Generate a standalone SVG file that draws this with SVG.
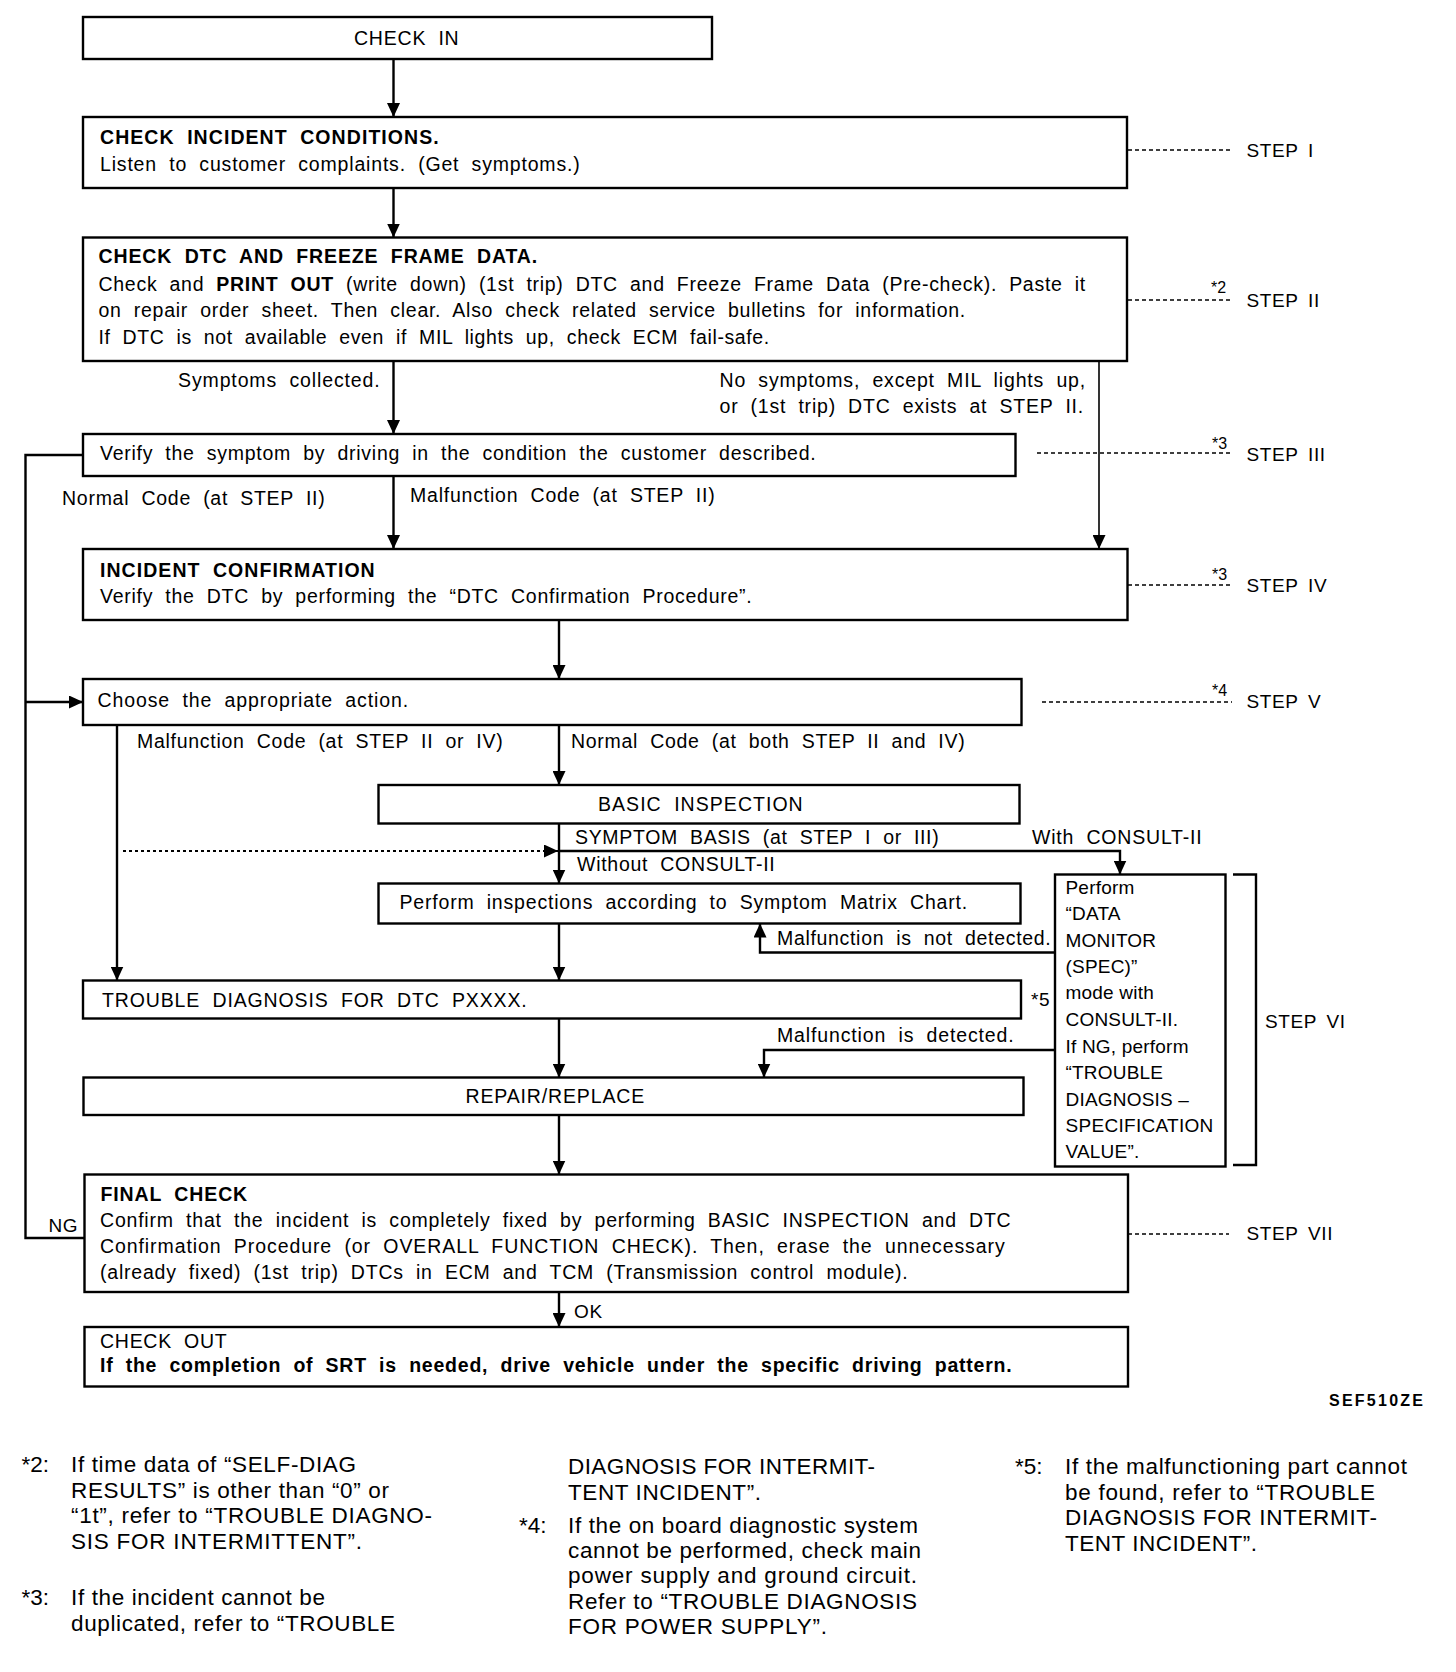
<svg xmlns="http://www.w3.org/2000/svg" width="1456" height="1672" viewBox="0 0 1456 1672">
<style>
.bx{fill:#fff;stroke:#000;stroke-width:2.4}
.ln{fill:none;stroke:#000;stroke-width:2.4}
.thin{fill:none;stroke:#000;stroke-width:1.6}
.dash{fill:none;stroke:#000;stroke-width:1.5;stroke-dasharray:4 3}
.dot{fill:none;stroke:#000;stroke-width:2;stroke-dasharray:3 3}
text{font-family:"Liberation Sans",Arial,Helvetica,sans-serif;fill:#000}
.t{font-size:19.5px;letter-spacing:0.3px;word-spacing:6px}
.tb{font-size:19.5px;font-weight:bold;letter-spacing:0.3px;word-spacing:6px}
.c{font-size:19px;letter-spacing:0.2px}
.st{font-size:19px;letter-spacing:0.6px;word-spacing:4px}
.sup{font-size:16px}
.fn{font-size:22.5px}
.code{font-size:16px;font-weight:bold}
</style>
<defs>
<marker id="ah" markerUnits="userSpaceOnUse" markerWidth="13" markerHeight="13" refX="14" refY="6.5" orient="auto">
<path d="M0,0 L14,6.5 L0,13 z" fill="#000"/>
</marker>
</defs>
<rect width="1456" height="1672" fill="#fff"/>

<g id="connectors">
<line class="ln" x1="393.5" y1="59" x2="393.5" y2="117" marker-end="url(#ah)"/>
<line class="ln" x1="393.5" y1="188" x2="393.5" y2="237.5" marker-end="url(#ah)"/>
<line class="ln" x1="393.5" y1="361" x2="393.5" y2="434" marker-end="url(#ah)"/>
<line class="thin" x1="1099" y1="361" x2="1099" y2="549" marker-end="url(#ah)"/>
<line class="ln" x1="393.5" y1="476" x2="393.5" y2="549" marker-end="url(#ah)"/>
<line class="ln" x1="559" y1="620" x2="559" y2="679" marker-end="url(#ah)"/>
<line class="ln" x1="559" y1="725" x2="559" y2="785" marker-end="url(#ah)"/>
<line class="ln" x1="559" y1="823.5" x2="559" y2="883.5" marker-end="url(#ah)"/>
<polyline class="ln" points="559,851 1120,851 1120,874.5" marker-end="url(#ah)"/>
<line class="dot" x1="123" y1="851" x2="558" y2="851" marker-end="url(#ah)"/>
<line class="ln" x1="117" y1="725" x2="117" y2="980.5" marker-end="url(#ah)"/>
<line class="ln" x1="559" y1="923.5" x2="559" y2="980.5" marker-end="url(#ah)"/>
<polyline class="ln" points="1055,952.5 760,952.5 760,923.5" marker-end="url(#ah)"/>
<line class="ln" x1="559" y1="1018.5" x2="559" y2="1077.5" marker-end="url(#ah)"/>
<polyline class="ln" points="1055,1050 764,1050 764,1077.5" marker-end="url(#ah)"/>
<line class="ln" x1="559" y1="1115" x2="559" y2="1174.5" marker-end="url(#ah)"/>
<line class="ln" x1="559" y1="1292" x2="559" y2="1327" marker-end="url(#ah)"/>
<polyline class="ln" points="83,455 25.5,455 25.5,1238 84.5,1238"/>
<line class="ln" x1="25.5" y1="702" x2="83" y2="702" marker-end="url(#ah)"/>
<line class="dash" x1="1128" y1="150" x2="1232" y2="150"/>
<line class="dash" x1="1128" y1="300" x2="1232" y2="300"/>
<line class="dash" x1="1037" y1="453" x2="1232" y2="453"/>
<line class="dash" x1="1128" y1="585" x2="1232" y2="585"/>
<line class="dash" x1="1042" y1="702" x2="1232" y2="702"/>
<line class="dash" x1="1128" y1="1234" x2="1229" y2="1234"/>
<polyline class="ln" points="1233,874.5 1256,874.5 1256,1165 1233,1165"/>
</g>

<g id="n1">
<rect class="bx" x="83" y="17" width="629" height="42"/>
<text class="t" x="354" y="44.5" textLength="105">CHECK IN</text>
</g>
<g id="n2">
<rect class="bx" x="83" y="117" width="1044" height="71"/>
<text class="tb" x="100" y="144" textLength="339">CHECK INCIDENT CONDITIONS.</text>
<text class="t" x="100" y="171" textLength="480">Listen to customer complaints. (Get symptoms.)</text>
</g>
<g id="n3">
<rect class="bx" x="83" y="237.5" width="1044" height="123.5"/>
<text class="tb" x="98.5" y="263" textLength="439">CHECK DTC AND FREEZE FRAME DATA.</text>
<text class="t" x="98.5" y="291" textLength="987">Check and <tspan font-weight="bold">PRINT OUT</tspan> (write down) (1st trip) DTC and Freeze Frame Data (Pre-check). Paste it</text>
<text class="t" x="98.5" y="317" textLength="867">on repair order sheet. Then clear. Also check related service bulletins for information.</text>
<text class="t" x="98.5" y="344" textLength="671">If DTC is not available even if MIL lights up, check ECM fail-safe.</text>
</g>
<g id="labels-a">
<text class="t" x="178" y="387" textLength="202">Symptoms collected.</text>
<text class="t" x="719.5" y="387" textLength="366">No symptoms, except MIL lights up,</text>
<text class="t" x="719.5" y="413" textLength="364">or (1st trip) DTC exists at STEP II.</text>
</g>
<g id="n4">
<rect class="bx" x="83" y="434" width="932.5" height="42"/>
<text class="t" x="100" y="460" textLength="716">Verify the symptom by driving in the condition the customer described.</text>
</g>
<g id="labels-b">
<text class="t" x="62" y="505" textLength="263">Normal Code (at STEP II)</text>
<text class="t" x="410" y="502" textLength="305">Malfunction Code (at STEP II)</text>
</g>
<g id="n5">
<rect class="bx" x="83" y="549" width="1044.5" height="71"/>
<text class="tb" x="100" y="577" textLength="275">INCIDENT CONFIRMATION</text>
<text class="t" x="100" y="603" textLength="652">Verify the DTC by performing the “DTC Confirmation Procedure”.</text>
</g>
<g id="n6">
<rect class="bx" x="83" y="679" width="938.5" height="46"/>
<text class="t" x="97.5" y="707" textLength="311">Choose the appropriate action.</text>
</g>
<g id="labels-c">
<text class="t" x="137" y="748" textLength="366">Malfunction Code (at STEP II or IV)</text>
<text class="t" x="571" y="748" textLength="394">Normal Code (at both STEP II and IV)</text>
</g>
<g id="n7">
<rect class="bx" x="378.5" y="785" width="641" height="38.5"/>
<text class="t" x="598" y="811" textLength="205">BASIC INSPECTION</text>
</g>
<g id="labels-d">
<text class="t" x="575" y="844" textLength="364">SYMPTOM BASIS (at STEP I or III)</text>
<text class="t" x="1032" y="844" textLength="170">With CONSULT-II</text>
<text class="t" x="577" y="871" textLength="198">Without CONSULT-II</text>
</g>
<g id="n8">
<rect class="bx" x="378.5" y="883.5" width="642" height="40"/>
<text class="t" x="399.5" y="909" textLength="568">Perform inspections according to Symptom Matrix Chart.</text>
</g>
<g id="labels-e">
<text class="t" x="777" y="945" textLength="274">Malfunction is not detected.</text>
<text class="t" x="777" y="1042" textLength="237">Malfunction is detected.</text>
<text class="st" x="1031" y="1006">*5</text>
</g>
<g id="n9">
<rect class="bx" x="83" y="980.5" width="938" height="38"/>
<text class="t" x="102" y="1007" textLength="425">TROUBLE DIAGNOSIS FOR DTC PXXXX.</text>
</g>
<g id="n10">
<rect class="bx" x="83.5" y="1077.5" width="940" height="37.5"/>
<text class="t" x="465.5" y="1103" textLength="179">REPAIR/REPLACE</text>
</g>
<g id="n11">
<rect class="bx" x="1055" y="874.5" width="170.5" height="292"/>
<text class="c" x="1065.5" y="893.5">Perform</text>
<text class="c" x="1065.5" y="920">“DATA</text>
<text class="c" x="1065.5" y="946.5">MONITOR</text>
<text class="c" x="1065.5" y="972.5">(SPEC)”</text>
<text class="c" x="1065.5" y="999">mode with</text>
<text class="c" x="1065.5" y="1026">CONSULT-II.</text>
<text class="c" x="1065.5" y="1052.5">If NG, perform</text>
<text class="c" x="1065.5" y="1079">“TROUBLE</text>
<text class="c" x="1065.5" y="1105.5">DIAGNOSIS –</text>
<text class="c" x="1065.5" y="1132" textLength="148">SPECIFICATION</text>
<text class="c" x="1065.5" y="1158">VALUE”.</text>
</g>
<g id="n12">
<rect class="bx" x="84.5" y="1174.5" width="1043.5" height="117.5"/>
<text class="tb" x="100.5" y="1201" textLength="147">FINAL CHECK</text>
<text class="t" x="100" y="1227" textLength="911">Confirm that the incident is completely fixed by performing BASIC INSPECTION and DTC</text>
<text class="t" x="100" y="1253" textLength="905">Confirmation Procedure (or OVERALL FUNCTION CHECK). Then, erase the unnecessary</text>
<text class="t" x="100" y="1279" textLength="808">(already fixed) (1st trip) DTCs in ECM and TCM (Transmission control module).</text>
</g>
<g id="labels-f">
<text class="st" x="48.5" y="1232">NG</text>
<text class="st" x="574" y="1318">OK</text>
</g>
<g id="n13">
<rect class="bx" x="84.5" y="1327" width="1043.5" height="59.5"/>
<text class="t" x="100" y="1348" textLength="127">CHECK OUT</text>
<text class="tb" x="100" y="1372" textLength="912">If the completion of SRT is needed, drive vehicle under the specific driving pattern.</text>
</g>

<g id="steps">
<text class="st" x="1246.5" y="157">STEP I</text>
<text class="sup" x="1211" y="293">*2</text>
<text class="st" x="1246.5" y="307">STEP II</text>
<text class="sup" x="1212" y="449">*3</text>
<text class="st" x="1246.5" y="461">STEP III</text>
<text class="sup" x="1212" y="580">*3</text>
<text class="st" x="1246.5" y="592">STEP IV</text>
<text class="sup" x="1212" y="696">*4</text>
<text class="st" x="1246.5" y="708">STEP V</text>
<text class="st" x="1265" y="1028">STEP VI</text>
<text class="st" x="1246.5" y="1240">STEP VII</text>
<text class="code" x="1329" y="1406" textLength="94">SEF510ZE</text>
</g>

<g id="footnotes">
<text class="fn" x="21.5" y="1472">*2:</text>
<text class="fn" x="71" y="1472" textLength="285">If time data of “SELF-DIAG</text>
<text class="fn" x="71" y="1497.5" textLength="318">RESULTS” is other than “0” or</text>
<text class="fn" x="71" y="1523" textLength="361">“1t”, refer to “TROUBLE DIAGNO-</text>
<text class="fn" x="71" y="1548.5" textLength="291">SIS FOR INTERMITTENT”.</text>
<text class="fn" x="21.5" y="1605">*3:</text>
<text class="fn" x="71" y="1605" textLength="254">If the incident cannot be</text>
<text class="fn" x="71" y="1631" textLength="324">duplicated, refer to “TROUBLE</text>

<text class="fn" x="568" y="1474" textLength="307">DIAGNOSIS FOR INTERMIT-</text>
<text class="fn" x="568" y="1499.5" textLength="193">TENT INCIDENT”.</text>
<text class="fn" x="519" y="1532.5">*4:</text>
<text class="fn" x="568" y="1532.5" textLength="350">If the on board diagnostic system</text>
<text class="fn" x="568" y="1557.5" textLength="353">cannot be performed, check main</text>
<text class="fn" x="568" y="1583" textLength="349">power supply and ground circuit.</text>
<text class="fn" x="568" y="1608.5" textLength="349">Refer to “TROUBLE DIAGNOSIS</text>
<text class="fn" x="568" y="1634" textLength="259">FOR POWER SUPPLY”.</text>

<text class="fn" x="1015" y="1474">*5:</text>
<text class="fn" x="1065" y="1474" textLength="342">If the malfunctioning part cannot</text>
<text class="fn" x="1065" y="1499.5" textLength="310">be found, refer to “TROUBLE</text>
<text class="fn" x="1065" y="1525" textLength="312">DIAGNOSIS FOR INTERMIT-</text>
<text class="fn" x="1065" y="1550.5" textLength="192">TENT INCIDENT”.</text>
</g>
</svg>
